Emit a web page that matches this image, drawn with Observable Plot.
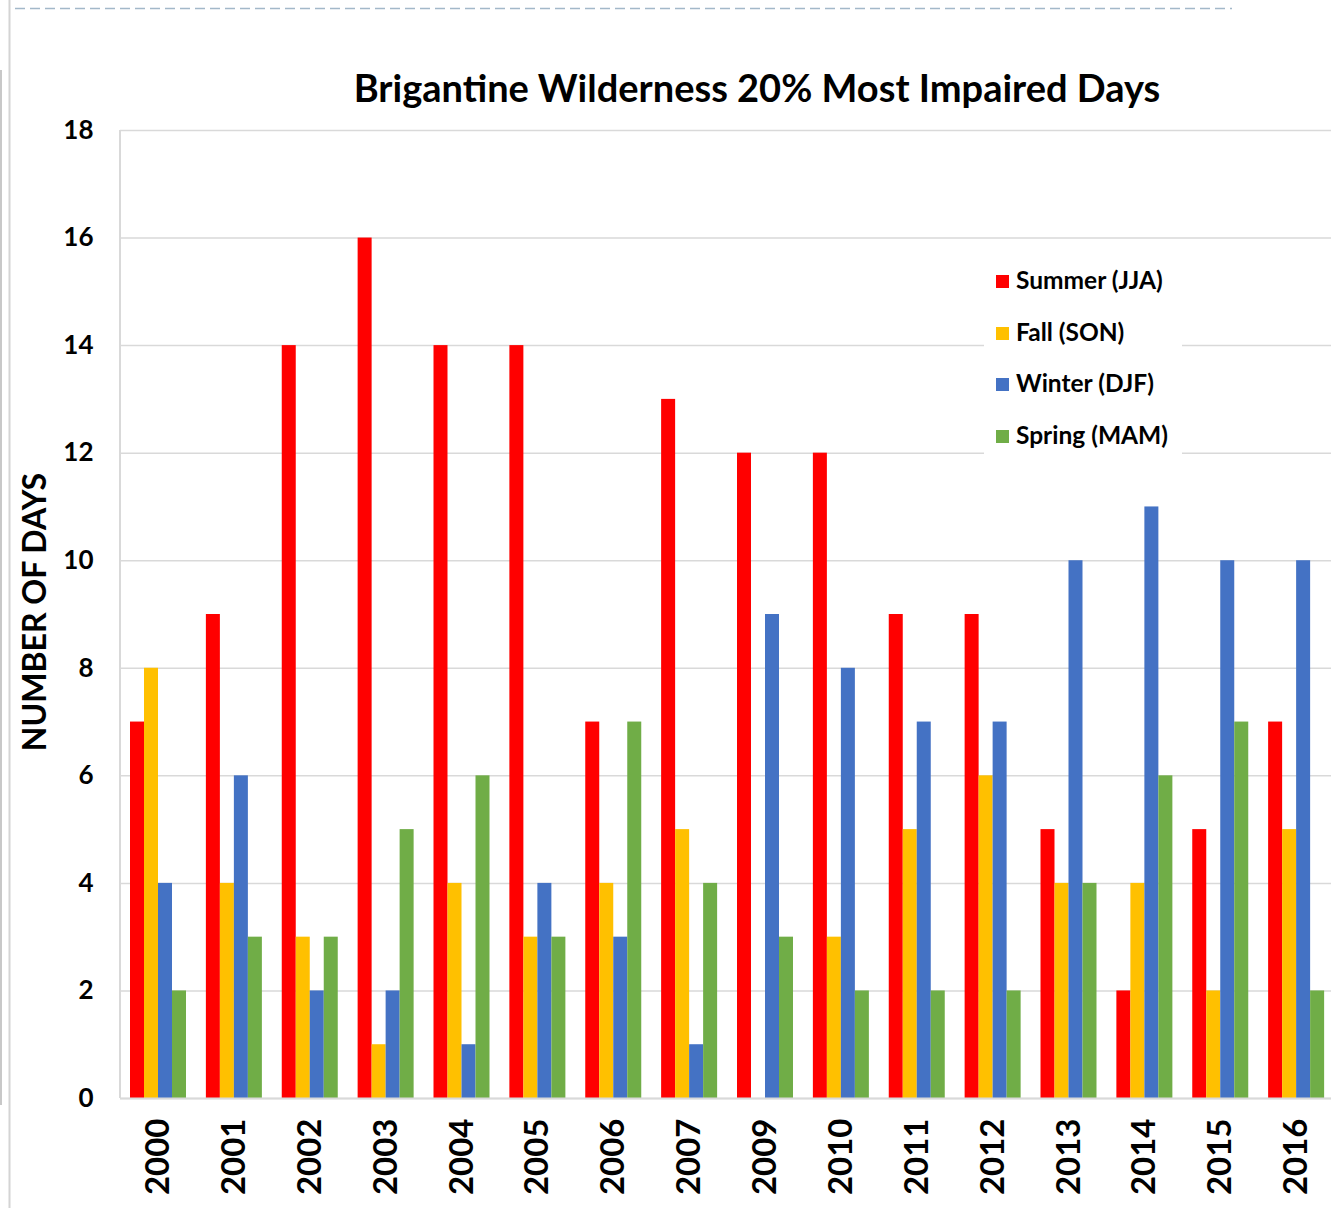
<!DOCTYPE html>
<html>
<head>
<meta charset="utf-8">
<script src="https://cdn.jsdelivr.net/npm/d3@7"></script>
<script src="https://cdn.jsdelivr.net/npm/@observablehq/plot@0.6"></script>
<style>
  html, body { margin: 0; padding: 0; background: #fff; }
  #wrap { position: relative; width: 1331px; height: 1208px; overflow: hidden; font-family: Lato, "DejaVu Sans", sans-serif; }
  #chart { position: absolute; left: 0; top: 0; }
  #title { position: absolute; left: 157px; width: 1200px; top: 64px; text-align: center; font-size: 38px; font-weight: bold; color: #000; line-height: 46px; }
  #ylabel { position: absolute; left: 34px; top: 612px; transform: translate(-50%, -50%) rotate(-90deg); font-size: 32px; font-weight: bold; white-space: nowrap; line-height: 32px; }
  #legend { position: absolute; left: 984px; top: 256px; width: 198px; height: 198px; background: #fff; }
  .li { position: absolute; left: 12px; font-size: 24.5px; font-weight: bold; white-space: nowrap; line-height: 24px; }
  .sw { display: inline-block; width: 13px; height: 13px; margin-right: 7px; vertical-align: 1px; }
  #deco { position: absolute; left: 0; top: 0; pointer-events: none; }
</style>
</head>
<body>
<div id="wrap">
  <div id="chart"></div>
  <div id="title"></div>
  <div id="ylabel"></div>
  <div id="legend"></div>
  <svg id="deco" width="1331" height="1208">
    <line x1="15" x2="1232" y1="8.5" y2="8.5" stroke="#a3b8c9" stroke-width="1.5" stroke-dasharray="10,5"/>
    <line x1="9.5" x2="9.5" y1="0" y2="1208" stroke="#d4d4d4" stroke-width="2"/>
    <line x1="1" x2="1" y1="70" y2="1105" stroke="#c8c8c8" stroke-width="2"/>
  </svg>
</div>
<script>
const titleText = "Brigantine Wilderness 20% Most Impaired Days";
const yLabelText = "NUMBER OF DAYS";
const years = ["2000","2001","2002","2003","2004","2005","2006","2007","2009","2010","2011","2012","2013","2014","2015","2016"];
const seasons = ["Summer (JJA)", "Fall (SON)", "Winter (DJF)", "Spring (MAM)"];
const seasonColors = ["#ff0000", "#ffc000", "#4472c4", "#70ad47"];
const summer = [7, 9, 14, 16, 14, 14, 7, 13, 12, 12, 9, 9, 5, 2, 5, 7];
const fall   = [8, 4, 3, 1, 4, 3, 4, 5, 0, 3, 5, 6, 4, 4, 2, 5];
const winter = [4, 6, 2, 2, 1, 4, 3, 1, 9, 8, 7, 7, 10, 11, 10, 10];
const spring = [2, 3, 3, 5, 6, 3, 7, 4, 3, 2, 2, 2, 4, 6, 7, 2];
const yTicks = [0, 2, 4, 6, 8, 10, 12, 14, 16, 18];

const series = [summer, fall, winter, spring];
const table = [];
series.forEach((vals, s) => vals.forEach((v, i) => table.push({year: years[i], season: seasons[s], s, value: v})));

const W = 1331, H = 1208;
const mL = 120, mT = 130, mB = 110;
const xRange = [mL, 1334];
const bw = (xRange[1] - xRange[0]) / years.length;
const groupOffset = 10, barW = 14;

const barMarks = seasons.map((name, s) => Plot.barY(table.filter(d => d.s === s), {
  x: "year", y: "value", fill: seasonColors[s],
  insetLeft: groupOffset + barW * s,
  insetRight: bw - (groupOffset + barW * (s + 1))
}));

const plot = Plot.plot({
  width: W, height: H,
  marginLeft: mL, marginRight: 0, marginTop: mT, marginBottom: mB,
  style: {fontFamily: "Lato, 'DejaVu Sans', sans-serif", background: "#fff", color: "#000"},
  x: {domain: years, range: xRange, padding: 0, round: false, label: null},
  y: {domain: [0, 18], label: null},
  marks: [
    Plot.gridY(yTicks, {stroke: "#d9d9d9", strokeOpacity: 1, strokeWidth: 1.5}),
    ...barMarks,
    Plot.ruleY([0], {stroke: "#d9d9d9", strokeWidth: 2}),
    Plot.axisY(yTicks, {tickSize: 0, tickPadding: 27, fontSize: 26, fontWeight: "bold", tickFormat: d3.format("d"), label: null}),
    Plot.axisX({tickSize: 0, tickPadding: 20, tickRotate: -90, fontSize: 33, fontWeight: "bold", label: null})
  ]
});
document.getElementById("chart").appendChild(plot);

// left axis line along the plot's left edge, using the y scale
const ys = plot.scale("y");
d3.select(plot).append("line")
  .attr("x1", mL).attr("x2", mL)
  .attr("y1", ys.apply(18)).attr("y2", ys.apply(0))
  .attr("stroke", "#d9d9d9").attr("stroke-width", 2);

document.getElementById("title").textContent = titleText;
document.getElementById("ylabel").textContent = yLabelText;
const legend = document.getElementById("legend");
seasons.forEach((name, s) => {
  const d = document.createElement("div");
  d.className = "li";
  d.style.top = (12 + s * 51.5) + "px";
  d.innerHTML = `<span class="sw" style="background:${seasonColors[s]}"></span>${name}`;
  legend.appendChild(d);
});
</script>
</body>
</html>
